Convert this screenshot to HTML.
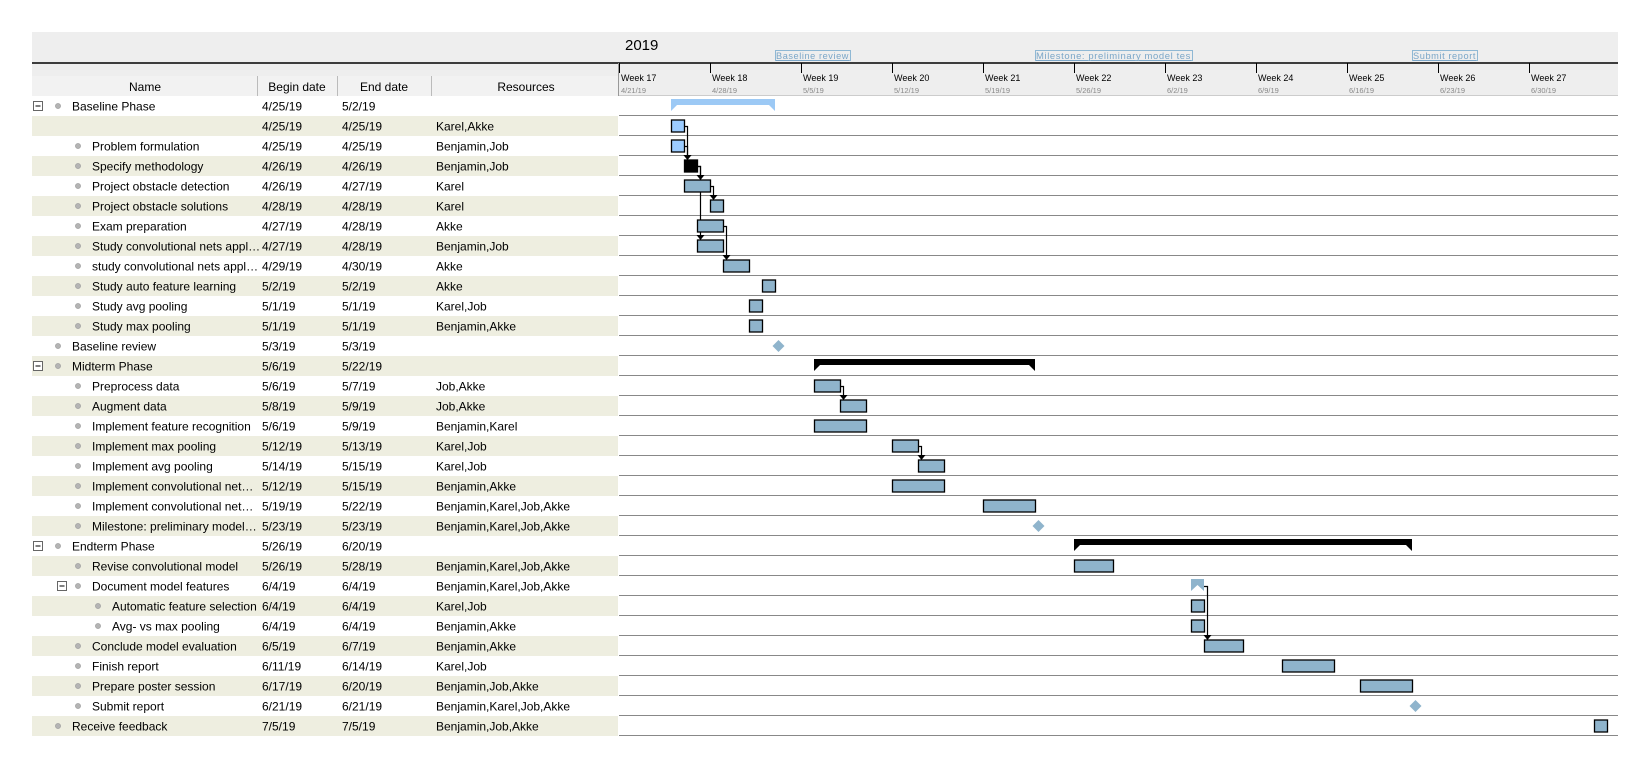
<!DOCTYPE html>
<html><head><meta charset="utf-8"><style>
body{margin:0;background:#fff;width:1650px;height:762px;overflow:hidden;font-family:"Liberation Sans",sans-serif}
svg{display:block}
</style></head><body>
<svg id="gantt" width="1650" height="762" xmlns="http://www.w3.org/2000/svg" font-family="Liberation Sans, sans-serif">
  <rect x="32" y="32" width="1586" height="64" fill="#eeeeee"/>
  <rect x="32" y="76" width="586" height="20" fill="#f2f2f2"/>
  <line x1="32" y1="63" x2="1618" y2="63" stroke="#000" stroke-width="1.5"/>
  <line x1="619" y1="95.5" x2="1618" y2="95.5" stroke="#cccccc"/>
  <line x1="618.5" y1="63" x2="618.5" y2="96" stroke="#999"/>
  <g font-size="12" fill="#000" text-anchor="middle">
    <text x="145" y="91">Name</text>
    <line x1="257.5" y1="76" x2="257.5" y2="96" stroke="#bbb"/>
    <text x="297" y="91">Begin date</text>
    <line x1="337.5" y1="76" x2="337.5" y2="96" stroke="#bbb"/>
    <text x="384" y="91">End date</text>
    <line x1="431.5" y1="76" x2="431.5" y2="96" stroke="#bbb"/>
    <text x="526" y="91">Resources</text>
  </g>
  <text x="625" y="50" font-size="15">2019</text>
  <g id="timeline"></g>
  <g id="rows"></g>
  <g id="deps"></g>
  <g id="bars"></g>
</svg>
<script>
const taskNames = ["Baseline Phase","","Problem formulation","Specify methodology","Project obstacle detection","Project obstacle solutions","Exam preparation","Study convolutional nets appl…","study convolutional nets appl…","Study auto feature learning","Study avg pooling","Study max pooling","Baseline review","Midterm Phase","Preprocess data","Augment data","Implement feature recognition","Implement max pooling","Implement avg pooling","Implement convolutional net…","Implement convolutional net…","Milestone: preliminary model…","Endterm Phase","Revise convolutional model","Document model features","Automatic feature selection","Avg- vs max pooling","Conclude model evaluation","Finish report","Prepare poster session","Submit report","Receive feedback"];
const beginDates = ["4/25/19","4/25/19","4/25/19","4/26/19","4/26/19","4/28/19","4/27/19","4/27/19","4/29/19","5/2/19","5/1/19","5/1/19","5/3/19","5/6/19","5/6/19","5/8/19","5/6/19","5/12/19","5/14/19","5/12/19","5/19/19","5/23/19","5/26/19","5/26/19","6/4/19","6/4/19","6/4/19","6/5/19","6/11/19","6/17/19","6/21/19","7/5/19"];
const endDates = ["5/2/19","4/25/19","4/25/19","4/26/19","4/27/19","4/28/19","4/28/19","4/28/19","4/30/19","5/2/19","5/1/19","5/1/19","5/3/19","5/22/19","5/7/19","5/9/19","5/9/19","5/13/19","5/15/19","5/15/19","5/22/19","5/23/19","6/20/19","5/28/19","6/4/19","6/4/19","6/4/19","6/7/19","6/14/19","6/20/19","6/21/19","7/5/19"];
const resCol = ["","Karel,Akke","Benjamin,Job","Benjamin,Job","Karel","Karel","Akke","Benjamin,Job","Akke","Akke","Karel,Job","Benjamin,Akke","","","Job,Akke","Job,Akke","Benjamin,Karel","Karel,Job","Karel,Job","Benjamin,Akke","Benjamin,Karel,Job,Akke","Benjamin,Karel,Job,Akke","","Benjamin,Karel,Job,Akke","Benjamin,Karel,Job,Akke","Karel,Job","Benjamin,Akke","Benjamin,Akke","Karel,Job","Benjamin,Job,Akke","Benjamin,Karel,Job,Akke","Benjamin,Job,Akke"];
const levels = [0,1,1,1,1,1,1,1,1,1,1,1,0,0,1,1,1,1,1,1,1,1,0,1,1,2,2,1,1,1,1,0];
const kinds = ["summary","sel","sel","black","task","task","task","task","task","task","task","task","milestone","summary","task","task","task","task","task","task","task","milestone","summary","task","summary1","task","task","task","task","task","milestone","task"];
const expandable = [0,13,22,24];
const dependencies = [[1,3],[2,3],[3,4],[3,7],[4,5],[6,8],[14,15],[17,18],[24,27]];
const weekLabels = ["Week 17","Week 18","Week 19","Week 20","Week 21","Week 22","Week 23","Week 24","Week 25","Week 26","Week 27"];
const weekDates = ["4/21/19","4/28/19","5/5/19","5/12/19","5/19/19","5/26/19","6/2/19","6/9/19","6/16/19","6/23/19","6/30/19"];
const headerMilestones = [["5/3/19","Baseline review",75],["5/23/19","Milestone: preliminary model tes",157],["6/21/19","Submit report",65]];

const NS="http://www.w3.org/2000/svg";
const X0=619, DAYW=13, ROW0=96, RH=20, XEND=1618;
const origin=new Date(2019,3,21);
function parseD(s){const p=s.split("/");return new Date(2000+ +p[2],p[0]-1,+p[1]);}
function xd(s){return X0+Math.round((parseD(s)-origin)/86400000)*DAYW;}
function yr(i){return ROW0+i*RH;}
function mk(tag,attrs,parent){const e=document.createElementNS(NS,tag);for(const k in attrs)e.setAttribute(k,attrs[k]);parent.appendChild(e);return e;}

const tl=document.getElementById("timeline");
weekLabels.forEach((w,i)=>{
  const x=xd(weekDates[i]);
  const t=mk("line",{x1:x+0.5,y1:63,x2:x+0.5,y2:73,stroke:"#000"},tl);
  
  
  const l=mk("text",{x:x+2,y:81,"font-size":"9","fill":"#000"},tl);l.textContent=w;
  
  
  const d=mk("text",{x:x+2,y:93,"font-size":"7.5","fill":"#888"},tl);d.textContent=weekDates[i];
  
  
});
headerMilestones.forEach(m=>{
  const x=xd(m[0]);
  const g=mk("g",{},tl);
  
  
  mk("rect",{x:x+0.5,y:50.5,width:m[2],height:10,fill:"none",stroke:"#8fb8d4"},g);
  const t=mk("text",{x:x+1,y:59,"font-size":"9.5","fill":"#7aa6c8","text-decoration":"underline","letter-spacing":"0.6",textLength:m[2]-2,lengthAdjust:"spacingAndGlyphs"},g);
  t.textContent=m[1];
});

const rowsG=document.getElementById("rows");
taskNames.forEach((n,i)=>{
  const y=yr(i);
  const g=mk("g",{},rowsG);
  
  
  if(i%2===1) mk("rect",{x:32,y:y,width:586,height:RH,fill:"#eeeee0"},g);
  mk("line",{x1:X0,y1:y+RH-0.5,x2:XEND,y2:y+RH-0.5,stroke:"#888"},g);
  const lv=levels[i];
  const bx=58+lv*20;
  if(expandable.includes(i)){
    const ex=(i===24)?57:33;
    const b=mk("g",{},g);
    
    
    mk("rect",{x:ex+0.5,y:y+5.5,width:9,height:9,fill:"#fff",stroke:"#666"},b);
    mk("line",{x1:ex+2.5,y1:y+10,x2:ex+7.5,y2:y+10,stroke:"#000"},b);
  }
  if(n!=="") mk("circle",{cx:bx,cy:y+10,r:2.6,fill:"#b4b4b4",stroke:"#9a9a9a","stroke-width":0.6},g);
  const tx=mk("text",{x:bx+14,y:y+14.5,"font-size":"12",fill:"#000"},g);tx.textContent=n;
  const b1=mk("text",{x:262,y:y+14.5,"font-size":"12",fill:"#000"},g);b1.textContent=beginDates[i];
  const e1=mk("text",{x:342,y:y+14.5,"font-size":"12",fill:"#000"},g);e1.textContent=endDates[i];
  const r1=mk("text",{x:436,y:y+14.5,"font-size":"12",fill:"#000"},g);r1.textContent=resCol[i];
});

const depG=document.getElementById("deps");
dependencies.forEach(d=>{
  const [a,b]=d;
  const ax=xd(endDates[a])+DAYW, ay=yr(a)+10;
  const bxp=xd(beginDates[b])+3, by=yr(b)+4;
  const hx=Math.max(bxp,ax+3);
  const p=mk("path",{d:`M${ax} ${ay+0.5}H${hx+0.5}V${by-1}`,fill:"none",stroke:"#000","stroke-width":1.2},depG);
  
  
  const h=mk("polygon",{points:`${hx-3.5},${by-5} ${hx+4.5},${by-5} ${hx+0.5},${by}`,fill:"#000"},depG);
  
  
});

const barG=document.getElementById("bars");
taskNames.forEach((n,i)=>{
  const y=yr(i), k=kinds[i];
  const x1=xd(beginDates[i]), x2=xd(endDates[i])+DAYW;
  let e;
  if(k==="summary"){
    const t=y+3, c=(i===0)?"#9cc9f5":"#000";
    e=mk("polygon",{points:`${x1},${t} ${x2},${t} ${x2},${t+12} ${x2-6},${t+6} ${x1+6},${t+6} ${x1},${t+12}`,fill:c},barG);
    
  } else if(k==="summary1"){
    const t=y+3, m=(x1+x2)/2;
    e=mk("polygon",{points:`${x1},${t} ${x2},${t} ${x2},${t+12} ${m},${t+6} ${x1},${t+12}`,fill:"#8fb4cc"},barG);
    
  } else if(k==="milestone"){
    const cx=x1+3.5, cy=y+10;
    e=mk("polygon",{points:`${cx},${cy-6} ${cx+6},${cy} ${cx},${cy+6} ${cx-6},${cy}`,fill:"#8fb4cc"},barG);
    
  } else {
    const fill=k==="sel"?"#9cccff":(k==="black"?"#000":"#8fb4cc");
    e=mk("rect",{x:x1+0.5,y:y+4,width:x2-x1,height:12,fill:fill,stroke:"#000","stroke-width":1.3},barG);
    
  }
  
});
</script>
</body></html>
